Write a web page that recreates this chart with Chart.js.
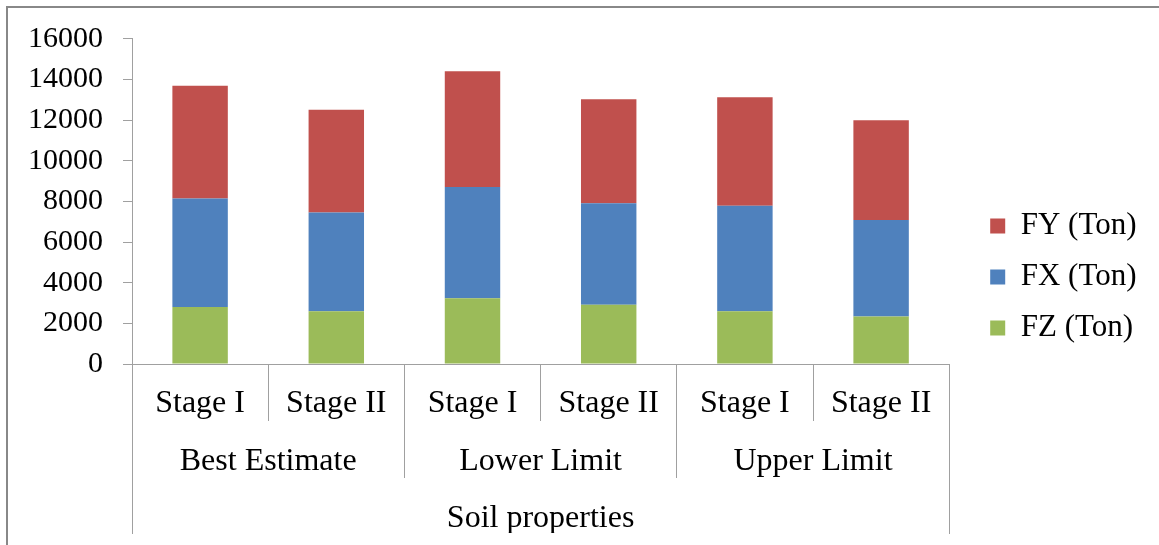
<!DOCTYPE html>
<html>
<head>
<meta charset="utf-8">
<title>Soil properties – force components</title>
<script src="https://cdn.jsdelivr.net/npm/chart.js@4.4.1/dist/chart.umd.min.js"></script>
<style>
  html, body { margin: 0; padding: 0; background: #ffffff; overflow: hidden; }
  #wrap { position: relative; width: 1159px; height: 545px; }
</style>
</head>
<body>
<div id="wrap"><canvas id="chart" width="1159" height="545"></canvas></div>
<script>
// Category levels of the x axis (inner to outer)
const stages = ['Stage I', 'Stage II', 'Stage I', 'Stage II', 'Stage I', 'Stage II'];
const groups = ['Best Estimate', 'Lower Limit', 'Upper Limit'];
const axisTitle = ['Soil properties'];

// Force components per case, in tons (stacked bottom to top: FZ, FX, FY)
const fz = [2800, 2600, 3240, 2910, 2600, 2340];
const fx = [5340, 4850, 5470, 5000, 5180, 4740];
const fy = [5550, 5060, 5690, 5110, 5340, 4910];

// Value axis tick labels
const yTicks = [0, 2000, 4000, 6000, 8000, 10000, 12000, 14000, 16000];

const serif = 'Liberation Serif, "Times New Roman", serif';
const lineGray = '#a0a0a0';

// Frame line along the top and left edges of the figure
const framePlugin = {
  id: 'frame',
  beforeDraw(chart) {
    const ctx = chart.ctx;
    ctx.save();
    ctx.fillStyle = '#ffffff';
    ctx.fillRect(0, 0, chart.width, chart.height);
    ctx.fillStyle = '#888888';
    ctx.fillRect(6, 6, chart.width - 6, 2);
    ctx.fillRect(6, 6, 2, chart.height - 6);
    ctx.restore();
  }
};

function levelAxis(labels, tickLength, padding, height) {
  return {
    type: 'category',
    position: 'bottom',
    labels: labels,
    offset: true,
    grid: { display: true, drawOnChartArea: false, offset: true, tickLength: tickLength, color: lineGray, lineWidth: 1 },
    border: { display: false },
    ticks: { font: { family: serif, size: 32 }, color: '#000000', padding: padding, maxRotation: 0, minRotation: 0, autoSkip: false },
    afterFit(scale) { scale.height = height; }
  };
}

new Chart(document.getElementById('chart'), {
  type: 'bar',
  data: {
    labels: stages,
    datasets: [
      { label: 'FZ (Ton)', data: fz, backgroundColor: '#9bbb59', borderWidth: 0 },
      { label: 'FX (Ton)', data: fx, backgroundColor: '#4f81bd', borderWidth: 0 },
      { label: 'FY (Ton)', data: fy, backgroundColor: '#c0504d', borderWidth: 0 }
    ]
  },
  options: {
    responsive: false,
    devicePixelRatio: 1,
    animation: false,
    layout: { padding: { left: 28, right: 12.5, top: 21, bottom: 12 } },
    datasets: { bar: { categoryPercentage: 1, barPercentage: 0.407 } },
    scales: {
      x: {
        type: 'category',
        position: 'bottom',
        stacked: true,
        offset: true,
        grid: { display: true, drawOnChartArea: false, offset: true, tickLength: 57, color: lineGray, lineWidth: 1 },
        border: { display: true, color: lineGray, width: 1 },
        ticks: { font: { family: serif, size: 32 }, color: '#000000', padding: -37, maxRotation: 0, minRotation: 0, autoSkip: false },
        afterFit(scale) { scale.height = 57; }
      },
      xGroup: levelAxis(groups, 57, -36, 56),
      xTitle: levelAxis(axisTitle, 57, -35, 56),
      y: {
        type: 'linear',
        position: 'left',
        stacked: true,
        min: 0,
        max: 16000,
        grid: { display: true, drawOnChartArea: false, tickLength: 9, color: lineGray, lineWidth: 1 },
        border: { display: true, color: lineGray, width: 1 },
        ticks: { font: { family: serif, size: 30 }, color: '#000000', padding: 20, callback: (v) => String(v) },
        afterBuildTicks(scale) { scale.ticks = yTicks.map((v) => ({ value: v })); },
        afterFit(scale) { scale.width = 104; scale.paddingTop = 38.7; }
      },
      // empty strip that keeps the legend clear of the plot
      yGap: {
        type: 'linear',
        position: 'right',
        display: true,
        grid: { display: false },
        border: { display: false },
        ticks: { display: false },
        afterFit(scale) { scale.width = 21; scale.paddingTop = 0; scale.paddingBottom = 0; }
      }
    },
    plugins: {
      legend: {
        position: 'right',
        reverse: true,
        labels: { font: { family: serif, size: 31 }, color: '#000000', boxWidth: 15, boxHeight: 15, padding: 20 }
      },
      tooltip: { enabled: false },
      title: { display: false }
    }
  },
  plugins: [framePlugin]
});
</script>
</body>
</html>
